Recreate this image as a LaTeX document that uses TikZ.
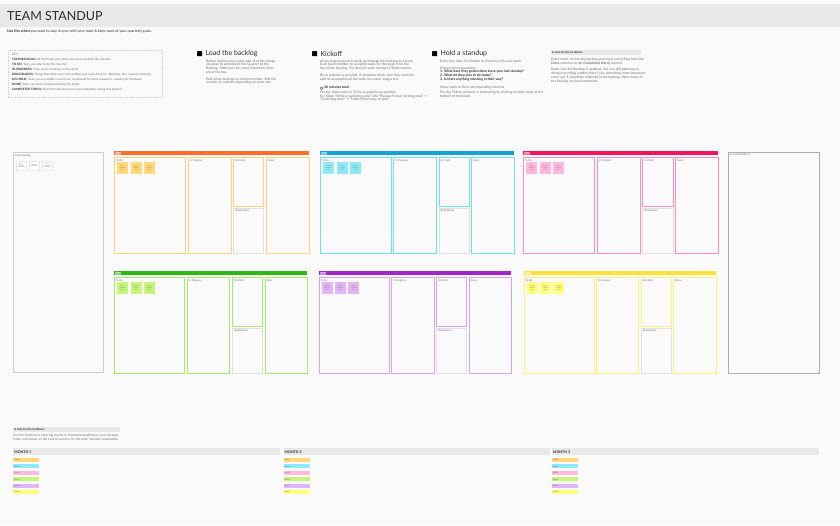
\documentclass[tikz,border=0pt]{standalone}
\usepackage{fontspec}
\setmainfont{Lato}
\newfontfamily\arrowfont{DejaVu Sans}
\usetikzlibrary{positioning}
\definecolor{canvas}{HTML}{FAFAFA}
\definecolor{band}{HTML}{E8E8E8}
\definecolor{ink}{HTML}{2B2B2B}
\definecolor{softink}{HTML}{6E6E6E}
\definecolor{frame}{HTML}{CDCDCD}
\definecolor{orangebar}{HTML}{FF6D2E}
\definecolor{orangeline}{HTML}{FFD27A}
\definecolor{orangenote}{HTML}{FFD97A}
\definecolor{bluebar}{HTML}{10A5D2}
\definecolor{blueline}{HTML}{6CE1F2}
\definecolor{bluenote}{HTML}{8EEAF7}
\definecolor{pinkbar}{HTML}{F2155C}
\definecolor{pinkline}{HTML}{FF8DBA}
\definecolor{pinknote}{HTML}{FFB9DE}
\definecolor{greenbar}{HTML}{2DB815}
\definecolor{greenline}{HTML}{A9E96B}
\definecolor{greennote}{HTML}{C6F57C}
\definecolor{purplebar}{HTML}{A326CC}
\definecolor{purpleline}{HTML}{D9A2F1}
\definecolor{purplenote}{HTML}{E1B6F5}
\definecolor{yellowbar}{HTML}{FFE036}
\definecolor{yellowline}{HTML}{FFF07A}
\definecolor{yellownote}{HTML}{FFFF7C}
\newcommand\tinytext{\fontsize{3.4}{3.7}\selectfont}
\newcommand\keytext{\fontsize{3}{5}\selectfont}
\newcommand\microtext{\fontsize{1.5}{1.8}\selectfont}
\newcommand\labeltext{\fontsize{2.6}{3}\selectfont}
\newcommand\rarr{{\arrowfont →}}
\tikzset{
  notetext/.style={anchor=north west, inner sep=0pt, align=left, font=\tinytext, text=softink},
  stephead/.style={inner sep=0pt, font=\fontsize{7}{8}\selectfont, text=ink},
  stepicon/.style={fill=black, minimum size=5pt, inner sep=0pt, rounded corners=0.4pt, anchor=north west},
  graybar/.style={fill=band, inner sep=0pt, anchor=north west},
  barlabel/.style={anchor=west, inner sep=0pt, font=\fontsize{2.8}{3}\selectfont\bfseries, text=ink},
  colbox/.style={draw, line width=0.9pt, fill=canvas, inner sep=0pt, anchor=north west},
  sticky/.style={minimum width=11pt, minimum height=12pt, inner sep=0.3pt, align=center,
    font=\microtext, text=softink, anchor=north west},
  collabel/.style={anchor=north west, inner sep=0pt, font=\labeltext, text=softink},
  eventchip/.style={minimum width=26pt, minimum height=4pt, inner sep=0pt, inner xsep=1pt,
    text width=24pt, align=left, anchor=north west, font=\fontsize{2.2}{2.5}\selectfont, text=softink}
}
% one coloured team board: name, x, y, width, bar, border, notes
\newcommand\teamboard[7]{%
  \pgfmathsetmacro\wtodo{0.365*#4}
  \pgfmathsetmacro\wprog{0.22*#4}
  \pgfmathsetmacro\whold{0.155*#4}
  \pgfmathsetmacro\bdgap{0.0133*#4}
  \pgfmathsetmacro\xprog{#2+\wtodo+\bdgap}
  \pgfmathsetmacro\xhold{\xprog+\wprog+\bdgap}
  \pgfmathsetmacro\xdone{\xhold+\whold+\bdgap}
  \pgfmathsetmacro\wdone{#2+#4-\xdone}
  \pgfmathsetmacro\ytop{#3+6}
  \pgfmathsetmacro\yroad{#3+56.5}
  \node[fill=#5, minimum width=#4pt, minimum height=4pt, inner sep=0pt, anchor=north west] (#1-bar) at (#2,#3) {};
  \node[fill=white, fill opacity=0.45, text opacity=1, minimum width=6pt, minimum height=2.8pt,
    inner sep=0pt, anchor=west, font=\fontsize{1.8}{2}\selectfont, text=white] (#1-tag) at ([xshift=1pt]#1-bar.west) {Team};
  \node[colbox, draw=#6, minimum width=\wtodo pt, minimum height=96pt] (#1-todo) at (#2,\ytop) {};
  \node[colbox, draw=#6, minimum width=\wprog pt, minimum height=96pt] (#1-prog) at (\xprog,\ytop) {};
  \node[colbox, draw=#6, minimum width=\whold pt, minimum height=49pt] (#1-hold) at (\xhold,\ytop) {};
  \node[colbox, draw=frame!60, line width=0.6pt, minimum width=\whold pt, minimum height=45.5pt] (#1-road) at (\xhold,\yroad) {};
  \node[colbox, draw=#6, minimum width=\wdone pt, minimum height=96pt] (#1-done) at (\xdone,\ytop) {};
  \node[collabel] (#1-todo-lbl) at ([shift={(1.8pt,-2pt)}]#1-todo.north west) {To Do};
  \node[collabel] (#1-prog-lbl) at ([shift={(1.8pt,-2pt)}]#1-prog.north west) {In Progress};
  \node[collabel] (#1-hold-lbl) at ([shift={(1.8pt,-2pt)}]#1-hold.north west) {On Hold};
  \node[collabel] (#1-road-lbl) at ([shift={(1.8pt,-2pt)}]#1-road.north west) {Road blocks};
  \node[collabel] (#1-done-lbl) at ([shift={(1.8pt,-2pt)}]#1-done.north west) {Done};
  \foreach \k in {0,1,2}
    \node[sticky, fill=#7] (#1-s\k) at ([shift={(\k*13.3pt+3pt,-5pt)}]#1-todo.north west) {Goal to\\complete\\this Q};
}

\begin{document}
\begin{tikzpicture}[x=1pt, y=-1pt]
  \useasboundingbox (0,0) rectangle (840,525);
  \fill[canvas] (0,0) rectangle (840,525);

  % title band
  \node[graybar, minimum width=840pt, minimum height=23pt] (band) at (0,4) {};
  \node[anchor=west, inner sep=0pt, font=\fontsize{12.5}{14}\selectfont, text=ink] (title) at (7,16) {TEAM STANDUP};
  \node[anchor=west, inner sep=0pt, font=\fontsize{3.6}{4}\selectfont, text=ink] (intro) at (7,31)
    {\textbf{Use this when} you want to stay in sync with your team \& keep track of your quarterly goals.};

  % key
  \node[draw=frame, dash pattern=on 1.2pt off 1pt, line width=0.5pt, minimum width=154pt, minimum height=47pt,
    inner sep=0pt, anchor=north west] (keybox) at (8,50) {};
  \node[anchor=north west, inner sep=0pt, align=left, font=\keytext, text=softink] (keytext) at (12,53.5)
    {KEY\\
     \textcolor{ink}{\textbf{TEAM BACKLOG:}} All the things your team aims to accomplish this Quarter\\
     \textcolor{ink}{\textbf{TO DO:}} Tasks you plan to do this Quarter\\
     \textcolor{ink}{\textbf{IN PROGRESS:}} Tasks you're working on this sprint\\
     \textcolor{ink}{\textbf{ROAD BLOCKS:}} Things that block your from getting your work done (i.e. Backlogs, Dev capacity/velocity)\\
     \textcolor{ink}{\textbf{ON HOLD:}} Tasks you are unable to work on/ completed for some reason (i.e. waiting for feedback)\\
     \textcolor{ink}{\textbf{DONE:}} Tasks you have completed during the sprint\\
     \textcolor{ink}{\textbf{COMPLETED THIS Q:}} All of the tasks that your team completes during this Quarter};

  % step 1
  \node[stepicon] (icon1) at (197,51) {};
  \node[stephead, right=3pt of icon1] (head1) {Load the backlog};
  \node[notetext] (text1) at (206,59.5)
    {Before inviting your team, add all of the things\\
     you plan to accomplish this Quarter to the\\
     Backlog. Make sure the most important items\\
     are at the top.\\[3pt]
     Each block belongs to a team member. Edit the\\
     number of sections depending on team size.};

  % step 2
  \node[stepicon] (icon2) at (312,51) {};
  \node[stephead, right=3pt of icon2] (head2) {Kickoff};
  \node[notetext] (text2) at (320,59.5)
    {At the beginning each week, go through the backlog as a team.\\
     Each team member be assigned tasks for the week from the\\
     top of the backlog. Put those in each member's \textbf{To do} column.\\[3pt]
     Be as realistic as possible. If someone thinks that they won't be\\
     able to accomplish all the tasks in a week, assign less.\\[4.5pt]
     \hspace{4pt}\textcolor{ink}{\textbf{30 minutes total}}\\[1.5pt]
     Pro tip: make tasks in To Do as granular as possible\\
     Ex: break ``Write a marketing post'' into ``Research topic for blog post'' \rarr\\
     ``Draft blog post'' \rarr{} ``Publish final copy of post''};
  \draw[ink, line width=0.35pt] (321.6,88.2) circle[radius=1.4pt];

  % step 3
  \node[stepicon] (icon3) at (432,51) {};
  \node[stephead, right=3pt of icon3] (head3) {Hold a standup};
  \node[notetext] (text3) at (440,59.8)
    {Every day, take 15 minutes to check in with your team.\\[3pt]
     Discuss these questions:\\
     \textcolor{ink}{\textbf{1. What have they gotten done since your last standup?}}\\
     \textcolor{ink}{\textbf{2. What do they plan to do today?}}\\
     \textcolor{ink}{\textbf{3. Is there anything standing in their way?}}\\[4pt]
     Move tasks to their corresponding columns.\\[2pt]
     Pro tip: Follow whoever is presenting by clicking on their name at the\\
     bottom of the board.};

  % facilitator note, top
  \node[graybar, minimum width=90pt, minimum height=5pt] (notebar) at (551,50) {};
  \node[barlabel, font=\fontsize{2.8}{3}\selectfont\bfseries] (notehead) at ([xshift=1pt]notebar.west) {A note for the facilitator:};
  \node[notetext] (notetext) at (551,57.8)
    {Every week, review the backlog and move everything from the\\
     \textbf{Done} columns to the \textbf{Completed this Q} column.\\[3pt]
     Make sure the Backlog is updated. Are you still planning on\\
     doing everything written there? Has something more important\\
     come up? It should be reflected in the backlog. Items lower in\\
     the backlog are least important.};

  % team backlog
  \node[colbox, draw=frame, line width=0.8pt, minimum width=90pt, minimum height=220pt] (backlog) at (13,152) {};
  \node[collabel] (backlog-lbl) at ([shift={(2pt,-2pt)}]backlog.north west) {Team Backlog};
  \node[sticky, fill=white, draw=band, line width=0.3pt, minimum width=10pt, minimum height=9pt] (bl1) at (16,161) {Build\\analytics\\dashboard};
  \node[sticky, fill=white, draw=band, line width=0.3pt, minimum width=10pt, minimum height=9pt] (bl2) at (29,161) {Improve\\onboarding};
  \node[sticky, fill=white, draw=band, line width=0.3pt, minimum width=10pt, minimum height=9pt] (bl3) at (42,161) {Host\\customer\\interviews};

  % boards
  \teamboard{orange}{114}{151}{195}{orangebar}{orangeline}{orangenote}
  \teamboard{blue}{320}{151}{194}{bluebar}{blueline}{bluenote}
  \teamboard{pink}{523}{151}{195}{pinkbar}{pinkline}{pinknote}
  \teamboard{green}{114}{271}{193}{greenbar}{greenline}{greennote}
  \teamboard{purple}{318.5}{271}{192.5}{purplebar}{purpleline}{purplenote}
  \teamboard{yellow}{523.5}{271}{192}{yellowbar}{yellowline}{yellownote}

  % completed this quarter
  \node[colbox, draw=frame!85!black, line width=0.8pt, minimum width=91.5pt, minimum height=221pt] (completed) at (727.5,151.5) {};
  \node[collabel] (completed-lbl) at ([shift={(2pt,-2pt)}]completed.north west) {Completed this Q};

  % facilitator note, timeline
  \node[graybar, minimum width=107pt, minimum height=5pt] (timebar) at (13,427) {};
  \node[barlabel, font=\fontsize{2.8}{3}\selectfont\bfseries] (timehead) at ([xshift=1pt]timebar.west) {A note for the facilitator:};
  \node[notetext, font=\fontsize{3.2}{3.6}\selectfont] (timetext) at (13,434)
    {Use this timeline to mark big events or important deadlines in your Quarter.\\
     Color code based on the type of event or by the team member responsible.};

  % months
  \foreach \m/\mx/\mw in {1/13/267, 2/283.3/266, 3/551.7/267} {
    \node[graybar, minimum width=\mw pt, minimum height=7pt] (m\m-bar) at (\mx,448) {};
    \node[barlabel, font=\fontsize{3.6}{4}\selectfont\bfseries] (m\m-lbl) at ([xshift=1.2pt]m\m-bar.west) {MONTH \m};
    \foreach \c [count=\i from 0] in {orangenote, bluenote, pinknote, greennote, purplenote, yellownote}
      \node[eventchip, fill=\c] (m\m-e\i) at (\mx,457.7+6.45*\i) {Event};
  }
\end{tikzpicture}
\end{document}
